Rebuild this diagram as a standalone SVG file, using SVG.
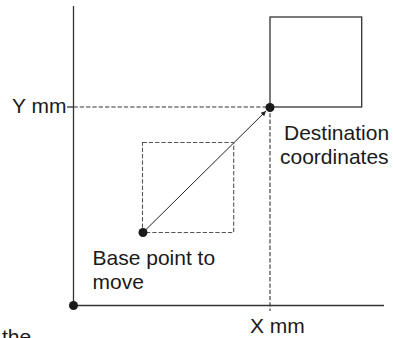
<svg xmlns="http://www.w3.org/2000/svg" width="393" height="338" viewBox="0 0 393 338">
<style>
.ax{stroke:#333;stroke-width:1.3;fill:none}
.dash{stroke:#333;stroke-width:1.1;fill:none;stroke-dasharray:4.3 2}
.dashg{stroke:#555;stroke-width:1.1;fill:none;stroke-dasharray:4.3 2}
.dot{fill:#1a1a1a}
.t{font-family:"Liberation Sans",Arial,sans-serif;font-size:21px;fill:#1a1a1a}
</style>
<defs>
<marker id="ah" viewBox="0 0 10 10" refX="10" refY="5" markerWidth="7" markerHeight="5" markerUnits="userSpaceOnUse" orient="auto">
<path d="M0,0 L10,5 L0,10 z" fill="#222"/>
</marker>
</defs>
<g id="connectors">
<line class="ax" x1="73.5" y1="6" x2="73.5" y2="305.5"/>
<line class="ax" x1="73.5" y1="305.5" x2="384" y2="305.5"/>
<line class="ax" x1="67" y1="107" x2="73.5" y2="107"/>
<line class="dash" x1="73.5" y1="107" x2="270" y2="107"/>
<line class="dash" x1="270" y1="107" x2="270" y2="311"/>
<line stroke="#222" stroke-width="1" x1="143" y1="232.5" x2="266" y2="111" marker-end="url(#ah)"/>
</g>
<g id="destination-square">
<rect class="ax" x="270" y="17" width="91.7" height="90"/>
</g>
<g id="base-square">
<rect class="dashg" x="142.5" y="142.5" width="91.2" height="90"/>
</g>
<g id="origin"><circle class="dot" cx="73.5" cy="305.5" r="4.5"/></g>
<g id="base-point"><circle class="dot" cx="143" cy="232.5" r="4.5"/></g>
<g id="destination-point"><circle class="dot" cx="270" cy="107.5" r="4.5"/></g>
<g id="labels">
<text class="t" x="12" y="113" font-size="20">Y mm</text>
<text class="t" x="250" y="333" font-size="19">X mm</text>
<text class="t" x="284" y="140">Destination</text>
<text class="t" x="280" y="164">coordinates</text>
<text class="t" x="92.5" y="265">Base point to</text>
<text class="t" x="92.5" y="289">move</text>
<text class="t" x="2" y="344">the</text>
</g>
</svg>
